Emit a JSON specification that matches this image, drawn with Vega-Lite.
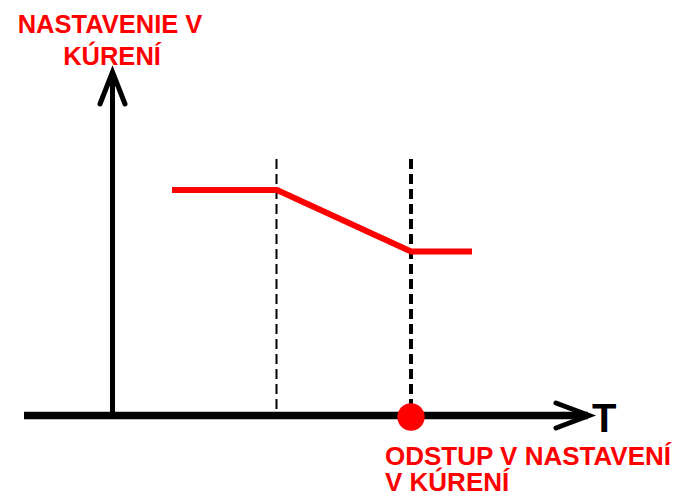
{
  "$schema": "https://vega.github.io/schema/vega-lite/v6.json",
  "width": 682,
  "height": 497,
  "autosize": {"type": "none"},
  "padding": 0,
  "background": "white",
  "config": {"view": {"stroke": null}},
  "datasets": {
    "axes": [
      {"part": "xaxis", "i": 0, "x": 24, "y": 415.5},
      {"part": "xaxis", "i": 1, "x": 588, "y": 415.5},
      {"part": "yaxis", "i": 0, "x": 112.5, "y": 419},
      {"part": "yaxis", "i": 1, "x": 112.5, "y": 74}
    ],
    "heads": [
      {"part": "yhead", "i": 0, "x": 100, "y": 104},
      {"part": "yhead", "i": 1, "x": 112.5, "y": 72},
      {"part": "yhead", "i": 2, "x": 125, "y": 104},
      {"part": "xhead", "i": 0, "x": 556, "y": 403},
      {"part": "xhead", "i": 1, "x": 589, "y": 415.5},
      {"part": "xhead", "i": 2, "x": 556, "y": 428}
    ],
    "curve": [
      {"i": 0, "x": 172, "y": 190},
      {"i": 1, "x": 277, "y": 190},
      {"i": 2, "x": 411, "y": 251.5},
      {"i": 3, "x": 472, "y": 251.5}
    ],
    "thinDash": [{"x": 276.5, "y": 159, "y2": 412}],
    "thickDash": [{"x": 411, "y": 159, "y2": 412}],
    "dot": [{"x": 411, "y": 417}],
    "centerLabels": [
      {"text": "NASTAVENIE V", "x": 110, "y": 33},
      {"text": "KÚRENÍ", "x": 112, "y": 65}
    ],
    "leftLabels": [
      {"text": "ODSTUP V NASTAVENÍ", "x": 385, "y": 465},
      {"text": "V KÚRENÍ", "x": 385, "y": 491}
    ],
    "tLabel": [{"text": "T", "x": 592, "y": 432}]
  },
  "layer": [
    {
      "data": {"name": "thinDash"},
      "mark": {"type": "rule", "color": "black", "strokeWidth": 2, "strokeDash": [10, 5]},
      "encoding": {
        "x": {"field": "x", "type": "quantitative", "scale": {"domain": [0, 682], "nice": false, "zero": false}, "axis": null},
        "y": {"field": "y", "type": "quantitative", "scale": {"domain": [0, 497], "reverse": true, "nice": false, "zero": false}, "axis": null},
        "y2": {"field": "y2"}
      }
    },
    {
      "data": {"name": "thickDash"},
      "mark": {"type": "rule", "color": "black", "strokeWidth": 4, "strokeDash": [10, 5]},
      "encoding": {
        "x": {"field": "x", "type": "quantitative", "scale": {"domain": [0, 682], "nice": false, "zero": false}, "axis": null},
        "y": {"field": "y", "type": "quantitative", "scale": {"domain": [0, 497], "reverse": true, "nice": false, "zero": false}, "axis": null},
        "y2": {"field": "y2"}
      }
    },
    {
      "data": {"name": "axes"},
      "mark": {"type": "line", "color": "black", "strokeCap": "butt"},
      "encoding": {
        "x": {"field": "x", "type": "quantitative", "scale": {"domain": [0, 682], "nice": false, "zero": false}, "axis": null},
        "y": {"field": "y", "type": "quantitative", "scale": {"domain": [0, 497], "reverse": true, "nice": false, "zero": false}, "axis": null},
        "detail": {"field": "part"},
        "order": {"field": "i"},
        "strokeWidth": {"field": "part", "type": "nominal", "scale": {"domain": ["xaxis", "yaxis"], "range": [7.5, 5]}, "legend": null}
      }
    },
    {
      "data": {"name": "heads"},
      "mark": {"type": "line", "color": "black", "strokeWidth": 5, "strokeJoin": "miter", "strokeCap": "round"},
      "encoding": {
        "x": {"field": "x", "type": "quantitative", "scale": {"domain": [0, 682], "nice": false, "zero": false}, "axis": null},
        "y": {"field": "y", "type": "quantitative", "scale": {"domain": [0, 497], "reverse": true, "nice": false, "zero": false}, "axis": null},
        "detail": {"field": "part"},
        "order": {"field": "i"}
      }
    },
    {
      "data": {"name": "curve"},
      "mark": {"type": "line", "color": "#ff0000", "strokeWidth": 6, "strokeJoin": "miter"},
      "encoding": {
        "x": {"field": "x", "type": "quantitative", "scale": {"domain": [0, 682], "nice": false, "zero": false}, "axis": null},
        "y": {"field": "y", "type": "quantitative", "scale": {"domain": [0, 497], "reverse": true, "nice": false, "zero": false}, "axis": null},
        "order": {"field": "i"}
      }
    },
    {
      "data": {"name": "dot"},
      "mark": {"type": "point", "shape": "circle", "filled": true, "color": "#ff0000", "opacity": 1, "size": 750},
      "encoding": {
        "x": {"field": "x", "type": "quantitative", "scale": {"domain": [0, 682], "nice": false, "zero": false}, "axis": null},
        "y": {"field": "y", "type": "quantitative", "scale": {"domain": [0, 497], "reverse": true, "nice": false, "zero": false}, "axis": null}
      }
    },
    {
      "data": {"name": "centerLabels"},
      "mark": {"type": "text", "align": "center", "baseline": "alphabetic", "font": "Liberation Sans", "fontWeight": "bold", "fontSize": 25.5, "color": "#ff0000"},
      "encoding": {
        "x": {"field": "x", "type": "quantitative", "scale": {"domain": [0, 682], "nice": false, "zero": false}, "axis": null},
        "y": {"field": "y", "type": "quantitative", "scale": {"domain": [0, 497], "reverse": true, "nice": false, "zero": false}, "axis": null},
        "text": {"field": "text"}
      }
    },
    {
      "data": {"name": "leftLabels"},
      "mark": {"type": "text", "align": "left", "baseline": "alphabetic", "font": "Liberation Sans", "fontWeight": "bold", "fontSize": 26, "color": "#ff0000"},
      "encoding": {
        "x": {"field": "x", "type": "quantitative", "scale": {"domain": [0, 682], "nice": false, "zero": false}, "axis": null},
        "y": {"field": "y", "type": "quantitative", "scale": {"domain": [0, 497], "reverse": true, "nice": false, "zero": false}, "axis": null},
        "text": {"field": "text"}
      }
    },
    {
      "data": {"name": "tLabel"},
      "mark": {"type": "text", "align": "left", "baseline": "alphabetic", "font": "Liberation Sans", "fontWeight": "bold", "fontSize": 40, "color": "black"},
      "encoding": {
        "x": {"field": "x", "type": "quantitative", "scale": {"domain": [0, 682], "nice": false, "zero": false}, "axis": null},
        "y": {"field": "y", "type": "quantitative", "scale": {"domain": [0, 497], "reverse": true, "nice": false, "zero": false}, "axis": null},
        "text": {"field": "text"}
      }
    }
  ]
}
